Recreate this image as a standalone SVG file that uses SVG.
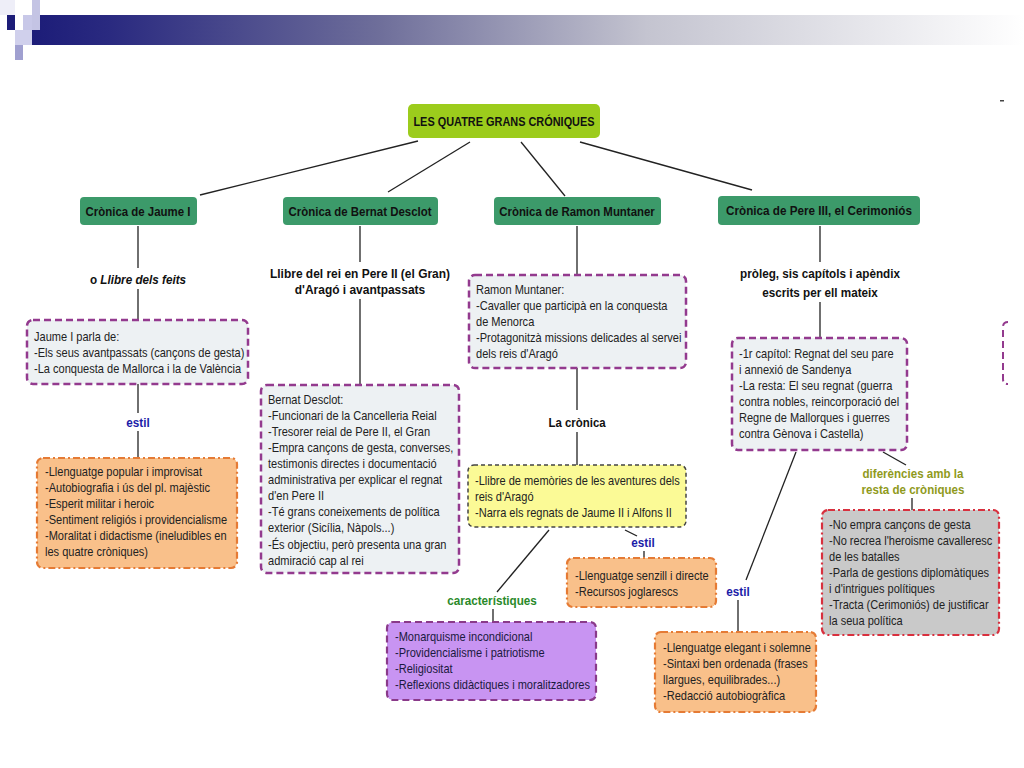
<svg xmlns="http://www.w3.org/2000/svg" width="1024" height="768" viewBox="0 0 1024 768">
<defs>
<linearGradient id="hdr" x1="0" y1="0" x2="1" y2="0">
<stop offset="0" stop-color="#1c1c78"/>
<stop offset="0.08" stop-color="#2a2a80"/>
<stop offset="0.35" stop-color="#6e6e9a"/>
<stop offset="0.62" stop-color="#c4c4d0"/>
<stop offset="1" stop-color="#ffffff"/>
</linearGradient>
<style>
.t{font-family:"Liberation Sans",Arial,sans-serif;font-size:13px;fill:#222}
.lb{font-family:"Liberation Sans",Arial,sans-serif;font-size:13px;font-weight:bold;text-anchor:middle;fill:#111}
.g1{fill:#3c9a6a}
.info{fill:#edf1f3;stroke:#933a8e;stroke-width:2.5;stroke-dasharray:7 4}
.or{fill:#f9c08a;stroke:#e57b35;stroke-width:2.2;stroke-dasharray:7 3 2 3}
.ye{fill:#fbfa96;stroke:#444;stroke-width:1.5;stroke-dasharray:4 3}
.pu{fill:#c894f2;stroke:#8a3a8a;stroke-width:2.2;stroke-dasharray:7 4}
.gr{fill:#c9c9c9;stroke:#d8303e;stroke-width:2.2;stroke-dasharray:7 3 2 3}
.ln{stroke:#222;stroke-width:1.3;fill:none}
.blue{fill:#1c1ca8}
.green{fill:#2a8a2a}
.olive{fill:#8f9a1c}
.dk{fill:#1a1a40}
</style>
</defs>
<rect width="1024" height="768" fill="#ffffff"/>
<g id="header">
<rect x="31" y="15" width="993" height="30" fill="url(#hdr)"/>
<rect x="0" y="0" width="15" height="15" fill="#eeeef8"/>
<rect x="32" y="0" width="8" height="30" fill="#c4c4e4"/>
<rect x="7" y="15" width="8" height="15" fill="#1c1c78"/>
<rect x="23" y="15" width="9" height="15" fill="#c8c8e8"/>
<rect x="15" y="30" width="17" height="15" fill="#d0d0ec"/>
<rect x="15" y="45" width="8" height="15" fill="#a0a0d0"/>
<rect x="1000" y="100" width="4" height="1.5" fill="#444"/>
</g>
<g id="connectors" class="ln">
<line x1="418" y1="141" x2="200" y2="195"/>
<line x1="470" y1="142" x2="388" y2="192"/>
<line x1="521" y1="142" x2="565" y2="196"/>
<line x1="580" y1="142" x2="752" y2="190"/>
<line x1="138" y1="226" x2="138" y2="268"/>
<line x1="138" y1="289" x2="138" y2="320"/>
<line x1="138" y1="384" x2="138" y2="413"/>
<line x1="138" y1="431" x2="138" y2="458"/>
<line x1="360" y1="226" x2="360" y2="262"/>
<line x1="360" y1="299" x2="360" y2="385"/>
<line x1="577" y1="226" x2="577" y2="275"/>
<line x1="577" y1="368" x2="577" y2="410"/>
<line x1="577" y1="432" x2="577" y2="465"/>
<line x1="549" y1="530" x2="497" y2="592"/>
<line x1="493" y1="609" x2="493" y2="622"/>
<line x1="625" y1="530" x2="637" y2="536"/>
<line x1="644" y1="551" x2="644" y2="558"/>
<line x1="820" y1="226" x2="820" y2="262"/>
<line x1="820" y1="302" x2="820" y2="338"/>
<line x1="796" y1="452" x2="746" y2="580"/>
<line x1="738" y1="600" x2="738" y2="632"/>
<line x1="883" y1="452" x2="906" y2="465"/>
<line x1="912" y1="498" x2="912" y2="510"/>
</g>
<g id="title">
<rect x="408" y="104" width="192" height="34" rx="5" fill="#9ccc1c"/>
<g transform="translate(504,0) scale(0.84,1)"><text class="lb" x="0" y="126">LES QUATRE GRANS CRÓNIQUES</text></g>
</g>
<g id="jaume">
<rect class="g1" x="80" y="197" width="117" height="28" rx="4"/>
<g transform="translate(138,0) scale(0.88,1)"><text class="lb" x="0" y="216">Crònica de Jaume I</text></g>
</g>
<g id="desclot">
<rect class="g1" x="283" y="197" width="155" height="28" rx="4"/>
<g transform="translate(360,0) scale(0.88,1)"><text class="lb" x="0" y="216">Crònica de Bernat Desclot</text></g>
</g>
<g id="muntaner">
<rect class="g1" x="494" y="197" width="167" height="28" rx="4"/>
<g transform="translate(577,0) scale(0.88,1)"><text class="lb" x="0" y="216">Crònica de Ramon Muntaner</text></g>
</g>
<g id="pere">
<rect class="g1" x="718" y="196" width="202" height="29" rx="4"/>
<g transform="translate(819,0) scale(0.9,1)"><text class="lb" x="0" y="215">Crònica de Pere III, el Cerimoniós</text></g>
</g>
<g id="llibre-feits">
<g transform="translate(138,0) scale(0.9,1)"><text class="lb" x="0" y="284">o <tspan font-style="italic">Llibre dels feits</tspan></text></g>
</g>
<g id="jaume-info">
<rect class="info" x="27" y="320" width="221" height="64" rx="6"/>
<g transform="translate(34,0) scale(0.85,1)">
<text class="t" x="0" y="341">Jaume I parla de:</text>
<text class="t" x="0" y="357">-Els seus avantpassats (cançons de gesta)</text>
<text class="t" x="0" y="373">-La conquesta de Mallorca i la de València</text>
</g>
</g>
<g id="jaume-estil-label">
<g transform="translate(138,0) scale(0.9,1)"><text class="lb blue" x="0" y="427">estil</text></g>
</g>
<g id="jaume-estil">
<rect class="or" x="37" y="458" width="200" height="110" rx="6"/>
<g transform="translate(45,0) scale(0.85,1)">
<text class="t" x="0" y="476">-Llenguatge popular i improvisat</text>
<text class="t" x="0" y="492">-Autobiografia i ús del pl. majèstic</text>
<text class="t" x="0" y="508">-Esperit militar i heroic</text>
<text class="t" x="0" y="524">-Sentiment religiós i providencialisme</text>
<text class="t" x="0" y="540">-Moralitat i didactisme (ineludibles en</text>
<text class="t" x="0" y="556">les quatre cròniques)</text>
</g>
</g>
<g id="desclot-llibre">
<g transform="translate(360,0) scale(0.92,1)">
<text class="lb" x="0" y="278">Llibre del rei en Pere II (el Gran)</text>
<text class="lb" x="0" y="294">d'Aragó i avantpassats</text>
</g>
</g>
<g id="desclot-info">
<rect class="info" x="261" y="385" width="198" height="188" rx="6"/>
<g transform="translate(268,0) scale(0.85,1)">
<text class="t" x="0" y="404">Bernat Desclot:</text>
<text class="t" x="0" y="420">-Funcionari de la Cancelleria Reial</text>
<text class="t" x="0" y="436">-Tresorer reial de Pere II, el Gran</text>
<text class="t" x="0" y="452">-Empra cançons de gesta, converses,</text>
<text class="t" x="0" y="468">testimonis directes i documentació</text>
<text class="t" x="0" y="484">administrativa per explicar el regnat</text>
<text class="t" x="0" y="500">d'en Pere II</text>
<text class="t" x="0" y="516">-Té grans coneixements de política</text>
<text class="t" x="0" y="532">exterior (Sicília, Nàpols...)</text>
<text class="t" x="0" y="549">-És objectiu, però presenta una gran</text>
<text class="t" x="0" y="565">admiració cap al rei</text>
</g>
</g>
<g id="muntaner-info">
<rect class="info" x="469" y="275" width="217" height="93" rx="6"/>
<g transform="translate(476,0) scale(0.85,1)">
<text class="t" x="0" y="294">Ramon Muntaner:</text>
<text class="t" x="0" y="310">-Cavaller que participà en la conquesta</text>
<text class="t" x="0" y="326">de Menorca</text>
<text class="t" x="0" y="342">-Protagonitzà missions delicades al servei</text>
<text class="t" x="0" y="358">dels reis d'Aragó</text>
</g>
</g>
<g id="la-cronica">
<g transform="translate(577,0) scale(0.88,1)"><text class="lb" x="0" y="427">La crònica</text></g>
</g>
<g id="muntaner-cronica">
<rect class="ye" x="468" y="465" width="218" height="62" rx="6"/>
<g transform="translate(475,0) scale(0.85,1)">
<text class="t" x="0" y="485">-Llibre de memòries de les aventures dels</text>
<text class="t" x="0" y="501">reis d'Aragó</text>
<text class="t" x="0" y="517">-Narra els regnats de Jaume II i Alfons II</text>
</g>
</g>
<g id="caract-label">
<g transform="translate(492,0) scale(0.9,1)"><text class="lb green" x="0" y="605">característiques</text></g>
</g>
<g id="muntaner-caract">
<rect class="pu" x="387" y="622" width="209" height="78" rx="6"/>
<g transform="translate(395,0) scale(0.85,1)">
<text class="t dk" x="0" y="641">-Monarquisme incondicional</text>
<text class="t dk" x="0" y="657">-Providencialisme i patriotisme</text>
<text class="t dk" x="0" y="673">-Religiositat</text>
<text class="t dk" x="0" y="689">-Reflexions didàctiques i moralitzadores</text>
</g>
</g>
<g id="muntaner-estil-label">
<g transform="translate(643,0) scale(0.9,1)"><text class="lb blue" x="0" y="547">estil</text></g>
</g>
<g id="muntaner-estil">
<rect class="or" x="567" y="558" width="149" height="49" rx="6"/>
<g transform="translate(575,0) scale(0.85,1)">
<text class="t" x="0" y="580">-Llenguatge senzill i directe</text>
<text class="t" x="0" y="596">-Recursos joglarescs</text>
</g>
</g>
<g id="pere-prolog">
<g transform="translate(820,0) scale(0.9,1)">
<text class="lb" x="0" y="278">pròleg, sis capítols i apèndix</text>
<text class="lb" x="0" y="297">escrits per ell mateix</text>
</g>
</g>
<g id="pere-info">
<rect class="info" x="732" y="338" width="175" height="112" rx="6"/>
<g transform="translate(739,0) scale(0.85,1)">
<text class="t" x="0" y="358">-1r capítol: Regnat del seu pare</text>
<text class="t" x="0" y="374">i annexió de Sandenya</text>
<text class="t" x="0" y="390">-La resta: El seu regnat (guerra</text>
<text class="t" x="0" y="406">contra nobles, reincorporació del</text>
<text class="t" x="0" y="422">Regne de Mallorques i guerres</text>
<text class="t" x="0" y="438">contra Gènova i Castella)</text>
</g>
</g>
<g id="pere-estil-label">
<g transform="translate(738,0) scale(0.9,1)"><text class="lb blue" x="0" y="596">estil</text></g>
</g>
<g id="pere-estil">
<rect class="or" x="655" y="632" width="161" height="80" rx="6"/>
<g transform="translate(663,0) scale(0.85,1)">
<text class="t" x="0" y="652">-Llenguatge elegant i solemne</text>
<text class="t" x="0" y="668">-Sintaxi ben ordenada (frases</text>
<text class="t" x="0" y="684">llargues, equilibrades...)</text>
<text class="t" x="0" y="700">-Redacció autobiogràfica</text>
</g>
</g>
<g id="dif-label">
<g transform="translate(913,0) scale(0.89,1)">
<text class="lb olive" x="0" y="478">diferències amb la</text>
<text class="lb olive" x="0" y="494">resta de cròniques</text>
</g>
</g>
<g id="pere-dif">
<rect class="gr" x="822" y="510" width="177" height="125" rx="6"/>
<g transform="translate(829,0) scale(0.85,1)">
<text class="t" x="0" y="529">-No empra cançons de gesta</text>
<text class="t" x="0" y="545">-No recrea l'heroisme cavalleresc</text>
<text class="t" x="0" y="561">de les batalles</text>
<text class="t" x="0" y="577">-Parla de gestions diplomàtiques</text>
<text class="t" x="0" y="593">i d'intrigues polítiques</text>
<text class="t" x="0" y="609">-Tracta (Cerimoniós) de justificar</text>
<text class="t" x="0" y="625">la seua política</text>
</g>
</g>
<g id="edge-box">
<path d="M1008,322 Q1003,322 1003,327 L1003,379 Q1003,384 1008,384" fill="none" stroke="#933a8e" stroke-width="2" stroke-dasharray="7 4"/>
</g>
</svg>
